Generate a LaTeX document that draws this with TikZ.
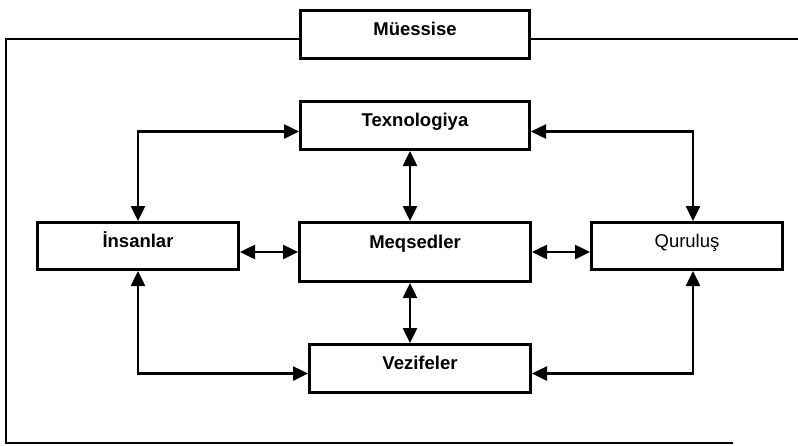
\documentclass[tikz,border=0pt]{standalone}
\usepackage{fontspec}
\setmainfont{Liberation Sans}
\usetikzlibrary{arrows.meta, positioning}
\tikzset{
    unitbox/.style={rectangle, draw=black, line width=3pt, text centered, font=\fontsize{18.5}{20}\selectfont\bfseries, text height=13pt, text depth=11pt},
    linkarrow/.style={{Triangle[length=15pt,width=14pt]}-{Triangle[length=15pt,width=14pt]}, line width=2.5pt, black},
    frameline/.style={line width=2.5pt, black},
}

\begin{document}
\begin{tikzpicture}[
  x=1pt, y=-1pt,
  widebox/.style={unitbox, minimum width=229pt, minimum height=48pt},
  sidebox/.style={unitbox, minimum height=47pt}
]
\useasboundingbox (0,0) rectangle (798,445);

% Centre - goals
\node[unitbox, minimum width=231pt, minimum height=59pt, text height=12pt, text depth=20pt] at (415,252) (meqsed) {Meqsedler};

% Middle column
\node[widebox, above=70pt of meqsed] (texno) {Texnologiya};
\node[widebox, above=40pt of texno] (muessise) {Müessise};
\node[widebox, minimum width=221pt, below=60pt of meqsed.south east, anchor=north east] (vezife) {Vezifeler};

% Side boxes (tops aligned to the goals box)
\node[sidebox, minimum width=201pt, left=58pt of meqsed.north west, anchor=north east] (insan) {İnsanlar};
\node[sidebox, minimum width=191pt, right=58pt of meqsed.north east, anchor=north west, font=\fontsize{18.5}{20}\selectfont] (qurulus) {Quruluş};

% Enterprise frame
\coordinate (frameTL) at (6,39);
\coordinate (frameBL) at (6,443);
\coordinate (frameBR) at (733,443);
\coordinate (frameTR) at (798,39);
\draw[frameline] (muessise.west |- frameTL) -- (frameTL) -- (frameBL) -- (frameBR);
\draw[frameline] (muessise.east |- frameTR) -- (frameTR);

% Links to the goals
\draw[linkarrow] (meqsed.west -| insan.east) -- (meqsed.west);
\draw[linkarrow] (meqsed.east) -- (meqsed.east -| qurulus.west);
\draw[linkarrow] ([xshift=-5pt]texno.south) -- ([xshift=-5pt]meqsed.north);
\draw[linkarrow] ([xshift=-5pt]meqsed.south) -- ([xshift=-5pt]meqsed.south |- vezife.north);

% Outer links
\draw[linkarrow] ([yshift=-6pt]texno.west) -| (insan.north);
\draw[linkarrow] ([yshift=-6pt]texno.east) -| ([xshift=6pt]qurulus.north);
\draw[linkarrow] (insan.south) |- ([yshift=-5pt]vezife.west);
\draw[linkarrow] ([xshift=6pt]qurulus.south) |- ([yshift=-5pt]vezife.east);
\end{tikzpicture}
\end{document}
